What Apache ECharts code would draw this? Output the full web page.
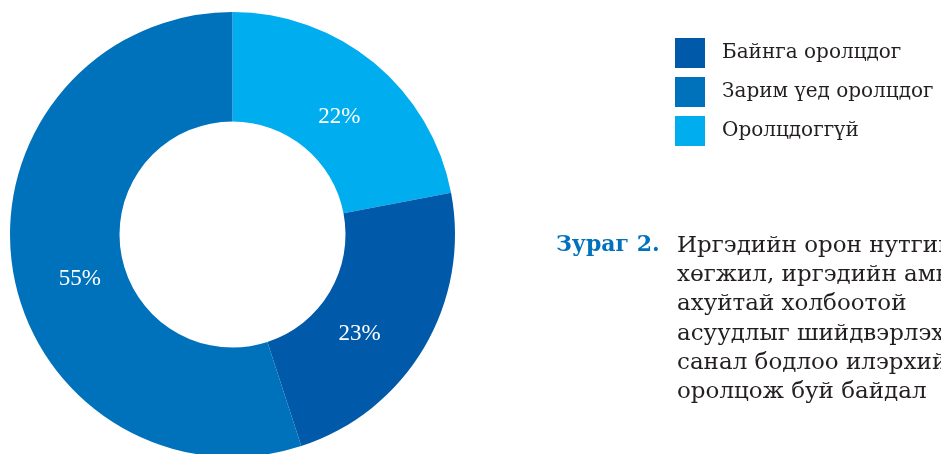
<!DOCTYPE html>
<html>
<head>
<meta charset="utf-8">
<script src="https://cdn.jsdelivr.net/npm/echarts@6/dist/echarts.min.js"></script>
<style>
  html, body { margin: 0; padding: 0; background: #fff; }
  #chart { width: 941px; height: 454px; }
</style>
</head>
<body>
<div id="chart"></div>
<script>
// 파이 조각 (12시 방향부터 시계 방향)
const categories = ['Оролцдоггүй', 'Байнга оролцдог', 'Зарим үед оролцдог']
const values = [22, 23, 55]
const colors = ['#00aeef', '#005aa9', '#0072bb']
const legendOrder = ['Байнга оролцдог', 'Зарим үед оролцдог', 'Оролцдоггүй']

// 라벨 위치 보정 (원본처럼 살짝 안쪽/아래로)
const labelNudge = [[-2, 14], [-20, 13], [16, 18]]

const captionLabel = 'Зураг 2.'
const captionLines = [
  'Иргэдийн орон нутгийн',
  'хөгжил, иргэдийн амьдрал',
  'ахуйтай холбоотой',
  'асуудлыг шийдвэрлэхэд',
  'санал бодлоо илэрхийлж',
  'оролцож буй байдал'
]

const chart = echarts.init(document.getElementById('chart'), null, { renderer: 'canvas' })

chart.setOption({
  animation: false,
  legend: {
    orient: 'vertical',
    left: 670,
    top: 33,
    itemWidth: 30,
    itemHeight: 30,
    itemGap: 9,
    icon: 'rect',
    data: legendOrder,
    textStyle: {
      fontFamily: 'DejaVu Serif',
      fontSize: 20,
      color: '#231f20',
      padding: [0, 0, 0, 12]
    }
  },
  series: [
    {
      type: 'pie',
      center: [232.5, 234.5],
      radius: [113, 222.5],
      startAngle: 90,
      clockwise: true,
      silent: true,
      itemStyle: { borderWidth: 0 },
      label: {
        show: true,
        position: 'inside',
        formatter: '{c}%',
        color: '#fff',
        fontFamily: 'Liberation Serif',
        fontSize: 23
      },
      labelLine: { show: false },
      labelLayout: params => {
        const n = labelNudge[params.dataIndex] || [0, 0]
        return { dx: n[0], dy: n[1] }
      },
      data: categories.map((name, i) => ({
        name,
        value: values[i],
        itemStyle: { color: colors[i] }
      }))
    }
  ],
  graphic: [
    {
      type: 'text',
      left: 556,
      top: 234,
      style: {
        text: captionLabel,
        fill: '#0072bb',
        font: 'bold 22px "DejaVu Serif"'
      }
    },
    {
      type: 'text',
      left: 677,
      top: 231,
      style: {
        text: captionLines.join('\n'),
        fill: '#231f20',
        font: '23px "DejaVu Serif"',
        lineHeight: 29.3
      }
    }
  ]
})
</script>
</body>
</html>
